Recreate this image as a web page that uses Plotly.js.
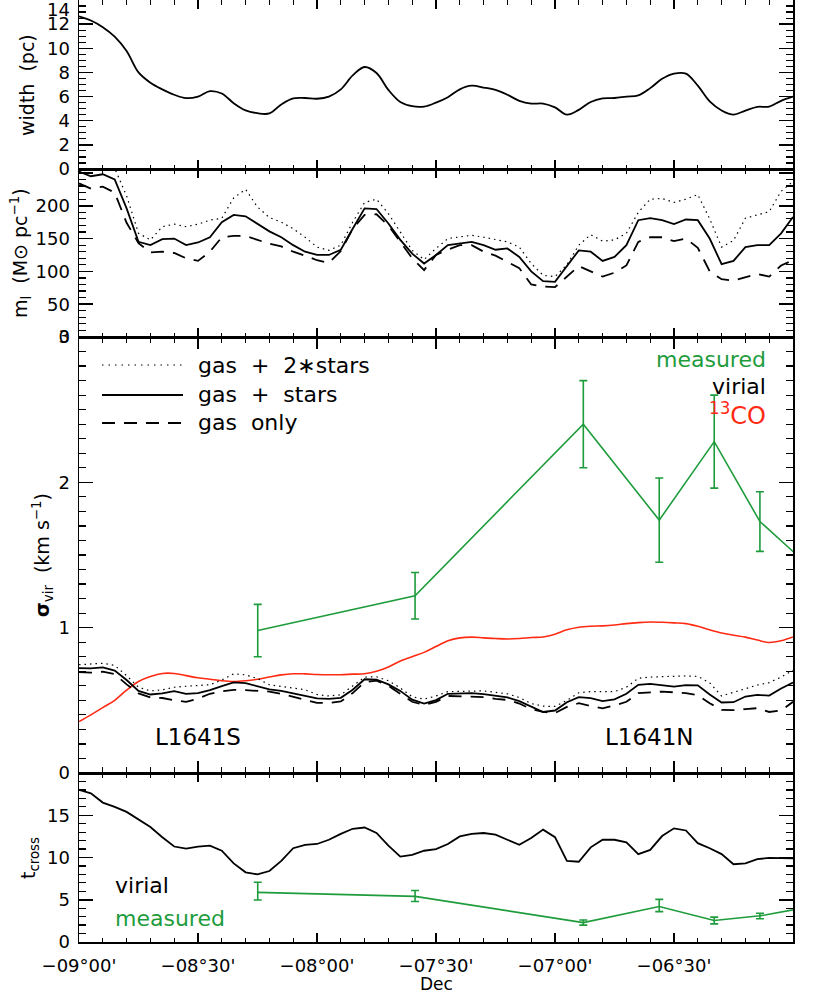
<!DOCTYPE html>
<html>
<head>
<meta charset="utf-8">
<script src="https://cdn.plot.ly/plotly-3.0.1.min.js"></script>
<style>html,body{margin:0;padding:0;background:#fff;}#chart{width:830px;height:995px;}</style>
</head>
<body>
<div id="chart"></div>
<script>
// Shared declination grid (degrees)
const dec = [-9.00,-8.95,-8.90,-8.85,-8.80,-8.75,-8.70,-8.65,-8.60,-8.55,-8.50,-8.45,-8.40,-8.35,-8.30,-8.25,-8.20,-8.15,-8.10,-8.05,-8.00,-7.95,-7.90,-7.85,-7.80,-7.75,-7.70,-7.65,-7.60,-7.55,-7.50,-7.45,-7.40,-7.35,-7.30,-7.25,-7.20,-7.15,-7.10,-7.05,-7.00,-6.95,-6.90,-6.85,-6.80,-6.75,-6.70,-6.65,-6.60,-6.55,-6.50,-6.45,-6.40,-6.35,-6.30,-6.25,-6.20,-6.15,-6.10,-6.05,-6.00];

// Panel 1: filament width (pc)
const widthPc = [12.65,12.3,11.75,10.96,9.77,8.0,7.15,6.6,6.15,5.87,6.0,6.45,6.25,5.45,4.85,4.62,4.6,5.35,5.85,5.88,5.82,6.0,6.6,7.75,8.45,7.95,6.55,5.55,5.2,5.17,5.5,5.95,6.6,6.9,6.75,6.55,6.15,5.65,5.42,5.42,5.1,4.5,4.9,5.55,5.85,5.88,6.0,6.1,6.7,7.47,7.9,7.9,6.9,5.6,4.85,4.5,4.84,5.15,5.17,5.65,6.0];

// Panel 2: line mass (Msun/pc)
const mlGas2Stars = [252,255,256,257,215,158,148,168,172,168,172,178,181,212,225,198,182,175,165,152,137,132,140,175,205,210,188,160,132,118,135,150,152,155,152,148,145,137,112,94,92,110,140,156,146,148,158,190,210,211,205,210,217,180,137,147,181,186,191,222,237];
const mlGasStars = [252,245,248,240,196,145,140,149,150,140,144,152,175,186,184,172,161,152,140,130,125,125,133,165,196,195,173,148,127,112,125,140,143,145,140,133,135,122,100,85,84,108,132,130,116,122,140,178,181,178,172,179,178,150,111,116,137,140,140,158,183];
const mlGasOnly = [234,226,229,220,174,143,129,130,128,120,116,130,152,154,154,148,142,138,130,124,117,113,131,165,186,187,170,145,120,102,125,133,140,140,130,124,114,105,80,77,76,92,108,100,92,98,109,145,152,152,146,150,136,100,88,86,91,96,92,109,117];

// Panel 3: virial velocity dispersion (km/s)
const sigGas2Stars = [0.745,0.75,0.755,0.74,0.67,0.59,0.565,0.572,0.59,0.597,0.6,0.607,0.64,0.683,0.675,0.65,0.607,0.595,0.58,0.573,0.54,0.53,0.538,0.6,0.66,0.662,0.635,0.585,0.525,0.508,0.53,0.56,0.563,0.567,0.565,0.555,0.545,0.52,0.478,0.46,0.458,0.5,0.552,0.56,0.56,0.56,0.59,0.652,0.66,0.664,0.665,0.668,0.665,0.62,0.53,0.555,0.585,0.605,0.622,0.66,0.706];
const sigGasStars = [0.722,0.72,0.727,0.705,0.64,0.565,0.54,0.548,0.563,0.545,0.55,0.57,0.598,0.623,0.618,0.595,0.575,0.565,0.548,0.532,0.513,0.51,0.517,0.573,0.645,0.643,0.61,0.565,0.505,0.478,0.502,0.545,0.548,0.549,0.543,0.532,0.52,0.495,0.456,0.42,0.43,0.487,0.522,0.515,0.495,0.507,0.545,0.607,0.613,0.605,0.595,0.605,0.603,0.54,0.485,0.487,0.526,0.537,0.533,0.582,0.623];
const sigGasOnly = [0.694,0.69,0.697,0.68,0.61,0.548,0.52,0.516,0.5,0.49,0.512,0.545,0.563,0.572,0.57,0.563,0.56,0.545,0.525,0.5,0.482,0.482,0.492,0.55,0.625,0.635,0.6,0.545,0.49,0.468,0.49,0.53,0.528,0.526,0.522,0.51,0.503,0.478,0.44,0.42,0.412,0.455,0.48,0.46,0.445,0.465,0.49,0.55,0.557,0.56,0.555,0.55,0.535,0.48,0.435,0.432,0.44,0.446,0.42,0.43,0.49];
const sig13CO = [0.354,0.40,0.45,0.50,0.57,0.63,0.664,0.685,0.685,0.67,0.655,0.645,0.635,0.63,0.635,0.645,0.66,0.675,0.683,0.682,0.678,0.676,0.676,0.68,0.683,0.70,0.73,0.77,0.80,0.83,0.87,0.91,0.93,0.935,0.93,0.925,0.922,0.925,0.932,0.936,0.955,0.985,1.003,1.01,1.012,1.018,1.028,1.035,1.039,1.037,1.033,1.028,1.01,0.985,0.963,0.948,0.935,0.915,0.898,0.91,0.936];

// Measured points
const decMeas = [-8.249,-7.588,-6.881,-6.562,-6.331,-6.139,-5.950];
const sigMeas = [0.98,1.22,2.40,1.74,2.28,1.73,1.45];
const sigMeasErr = [0.18,0.16,0.30,0.29,0.32,0.205,0.20];

// Panel 4: crossing time
const tcrossVir = [18.0,17.6,16.5,16.0,15.4,14.5,13.6,12.4,11.3,11.05,11.3,11.4,10.8,9.3,8.25,8.0,8.4,9.6,11.1,11.5,11.6,12.1,12.8,13.4,13.55,12.9,11.4,10.1,10.3,10.8,11.0,11.6,12.5,12.8,12.9,12.7,12.1,11.5,12.3,13.3,12.4,9.6,9.5,11.2,12.1,12.1,11.8,10.4,10.9,12.54,13.45,13.2,11.7,11.1,10.4,9.2,9.3,9.8,9.95,9.95,9.9];
const tcrossMeas = [5.87,5.4,2.3,4.2,2.54,3.1,4.05];
const tcrossErrPlus = [1.2,0.7,0.3,0.85,0.4,0.3,0.4];
const tcrossErrMinus = [0.9,0.6,0.3,0.6,0.4,0.35,0.4];

// Tick labels
const decTicks = [-9,-8.5,-8,-7.5,-7,-6.5,-6];
const decTickText = ["\u221209\u00b000'","\u221208\u00b030'","\u221208\u00b000'","\u221207\u00b030'","\u221207\u00b000'","\u221206\u00b030'","\u221206\u00b000'"];
const widthTicks = [0,2,4,6,8,10,12,14];
const widthTickText = ["0","2","4","6","8","10","12"," "];
const mlTicks = [0,50,100,150,200,250];
const mlTickText = ["0","50","100","150","200"," "];
const sigTicks = [0,1,2,3];
const sigTickText = ["0","1","2","3"];
const tTicks = [0,5,10,15,20];
const tTickText = ["0","5","10","15"," "];

const GREEN = '#1e9c3c';
const RED = '#ff2a12';
const FONT = 'DejaVu Sans, Liberation Sans, sans-serif';
const DOT = '1.5px,4px';
const DASH = '13px,9px';

const traces = [
  {x: dec, y: widthPc, xaxis:'x', yaxis:'y', mode:'lines', line:{color:'black', width:1.8, shape:'spline'}},
  {x: dec, y: mlGas2Stars, xaxis:'x2', yaxis:'y2', mode:'lines', line:{color:'black', width:1.2, dash:DOT}},
  {x: dec, y: mlGasStars, xaxis:'x2', yaxis:'y2', mode:'lines', line:{color:'black', width:1.8}},
  {x: dec, y: mlGasOnly, xaxis:'x2', yaxis:'y2', mode:'lines', line:{color:'black', width:1.8, dash:DASH}},
  {x: dec, y: sig13CO, xaxis:'x3', yaxis:'y3', mode:'lines', line:{color:RED, width:1.6, shape:'spline'}},
  {x: dec, y: sigGas2Stars, xaxis:'x3', yaxis:'y3', mode:'lines', line:{color:'black', width:1.2, dash:DOT}},
  {x: dec, y: sigGasStars, xaxis:'x3', yaxis:'y3', mode:'lines', line:{color:'black', width:1.8}},
  {x: dec, y: sigGasOnly, xaxis:'x3', yaxis:'y3', mode:'lines', line:{color:'black', width:1.8, dash:DASH}},
  {x: decMeas, y: sigMeas, xaxis:'x3', yaxis:'y3', mode:'lines', line:{color:GREEN, width:1.6},
   error_y:{type:'data', array:sigMeasErr, visible:true, color:GREEN, thickness:1.6, width:4}},
  {x: dec, y: tcrossVir, xaxis:'x4', yaxis:'y4', mode:'lines', line:{color:'black', width:1.8}},
  {x: decMeas, y: tcrossMeas, xaxis:'x4', yaxis:'y4', mode:'lines', line:{color:GREEN, width:1.6},
   error_y:{type:'data', symmetric:false, array:tcrossErrPlus, arrayminus:tcrossErrMinus, visible:true, color:GREEN, thickness:1.6, width:4}}
];

function xAxis(anchor, labels, len){
  return {
    anchor: anchor, range:[-9,-6], matches: anchor==='y4' ? undefined : 'x4',
    tickmode:'array', tickvals: decTicks, ticktext: decTickText, showticklabels: labels,
    ticks:'inside', ticklen: len, tickwidth:1.5, tickcolor:'black',
    minor:{tickmode:'linear', tick0:-9, dtick:0.1, ticks:'inside', ticklen: len/2, tickwidth:1.2, tickcolor:'black', showgrid:false},
    showline:true, linewidth:1.5, linecolor:'black', mirror:'allticks',
    showgrid:false, zeroline:false, ticklabelstandoff: 7,
    tickfont:{family:FONT, size:18, color:'black'}
  };
}
function yAxis(anchor, dom, range, tv, tt, minorDt){
  return {
    anchor: anchor, domain: dom, range: range,
    tickmode:'array', tickvals: tv, ticktext: tt,
    ticks:'inside', ticklen:14, tickwidth:1.5, tickcolor:'black',
    minor:{tickmode:'linear', tick0:0, dtick:minorDt, ticks:'inside', ticklen:7, tickwidth:1.2, tickcolor:'black', showgrid:false},
    showline:true, linewidth:1.5, linecolor:'black', mirror:'allticks',
    showgrid:false, zeroline:false, ticklabelstandoff: 4,
    tickfont:{family:FONT, size:18, color:'black'}
  };
}

const H = 942;
function py(p){ return (H - p) / H; }
function px(p){ return (p - 79) / 714; }

const annotations = [
  {text:'14', xref:'paper', yref:'paper', x:px(72), y:py(10), xanchor:'right', yanchor:'middle', showarrow:false, font:{family:FONT, size:18, color:'black'}},
  {text:'width\u00a0 (pc)', xref:'paper', yref:'paper', x:px(27), y:py(85), textangle:-90, xanchor:'center', yanchor:'middle', showarrow:false, font:{family:FONT, size:19, color:'black'}},
  {text:'m<sub>l</sub>\u00a0 (M\u2299 pc<sup>\u22121</sup>)', xref:'paper', yref:'paper', x:px(20), y:py(253), textangle:-90, xanchor:'center', yanchor:'middle', showarrow:false, font:{family:FONT, size:19, color:'black'}},
  {text:'<b>\u03c3</b><sub>vir</sub>\u00a0 (km s<sup>\u22121</sup>)', xref:'paper', yref:'paper', x:px(42), y:py(555), textangle:-90, xanchor:'center', yanchor:'middle', showarrow:false, font:{family:FONT, size:19, color:'black'}},
  {text:'t<sub>cross</sub>', xref:'paper', yref:'paper', x:px(29), y:py(858), textangle:-90, xanchor:'center', yanchor:'middle', showarrow:false, font:{family:FONT, size:19, color:'black'}},
  {text:'Dec', xref:'paper', yref:'paper', x:0.5, y:py(984), xanchor:'center', yanchor:'middle', showarrow:false, font:{family:FONT, size:17, color:'black'}},
  {text:'gas\u00a0 +\u00a0 2\u2217stars', xref:'paper', yref:'paper', x:px(196), y:py(365), xanchor:'left', yanchor:'middle', showarrow:false, font:{family:FONT, size:22, color:'black'}},
  {text:'gas\u00a0 +\u00a0 stars', xref:'paper', yref:'paper', x:px(196), y:py(394), xanchor:'left', yanchor:'middle', showarrow:false, font:{family:FONT, size:22, color:'black'}},
  {text:'gas\u00a0 only', xref:'paper', yref:'paper', x:px(196), y:py(422), xanchor:'left', yanchor:'middle', showarrow:false, font:{family:FONT, size:22, color:'black'}},
  {text:'measured', xref:'paper', yref:'paper', x:px(768), y:py(359), xanchor:'right', yanchor:'middle', showarrow:false, font:{family:FONT, size:22, color:GREEN}},
  {text:'virial', xref:'paper', yref:'paper', x:px(768), y:py(386), xanchor:'right', yanchor:'middle', showarrow:false, font:{family:FONT, size:22, color:'black'}},
  {text:'<sup>13</sup>CO', xref:'paper', yref:'paper', x:px(768), y:py(414), xanchor:'right', yanchor:'middle', showarrow:false, font:{family:FONT, size:24, color:RED}},
  {text:'L1641S', xref:'paper', yref:'paper', x:px(198), y:py(737), xanchor:'center', yanchor:'middle', showarrow:false, font:{family:FONT, size:23, color:'black'}},
  {text:'L1641N', xref:'paper', yref:'paper', x:px(649), y:py(737), xanchor:'center', yanchor:'middle', showarrow:false, font:{family:FONT, size:23, color:'black'}},
  {text:'virial', xref:'paper', yref:'paper', x:px(113), y:py(885), xanchor:'left', yanchor:'middle', showarrow:false, font:{family:FONT, size:22, color:'black'}},
  {text:'measured', xref:'paper', yref:'paper', x:px(113), y:py(918), xanchor:'left', yanchor:'middle', showarrow:false, font:{family:FONT, size:22, color:GREEN}}
];

const shapes = [
  {type:'line', xref:'paper', yref:'paper', x0:px(102), x1:px(183), y0:py(365), y1:py(365), line:{color:'black', width:1.2, dash:'1.5px,5px'}},
  {type:'line', xref:'paper', yref:'paper', x0:px(102), x1:px(183), y0:py(395), y1:py(395), line:{color:'black', width:1.8}},
  {type:'line', xref:'paper', yref:'paper', x0:px(102), x1:px(183), y0:py(423), y1:py(423), line:{color:'black', width:1.8, dash:DASH}}
];

const layout = {
  width:830, height:995,
  margin:{l:79, r:37, t:0, b:53, pad:0},
  paper_bgcolor:'white', plot_bgcolor:'white',
  showlegend:false,
  font:{family:FONT, size:18, color:'black'},
  xaxis: xAxis('y', false, 9),
  xaxis2: xAxis('y2', false, 9),
  xaxis3: xAxis('y3', false, 12),
  xaxis4: xAxis('y4', true, 9),
  yaxis: yAxis('x', [py(169), 1], [0,14], widthTicks, widthTickText, 0.5),
  yaxis2: yAxis('x2', [py(337), py(169)], [0,256], mlTicks, mlTickText, 10),
  yaxis3: yAxis('x3', [py(773), py(337)], [0,3], sigTicks, sigTickText, 0.1),
  yaxis4: yAxis('x4', [0, py(773)], [0,20], tTicks, tTickText, 1),
  annotations: annotations,
  shapes: shapes
};

Plotly.newPlot('chart', traces, layout, {staticPlot:true, displayModeBar:false});
</script>
</body>
</html>
